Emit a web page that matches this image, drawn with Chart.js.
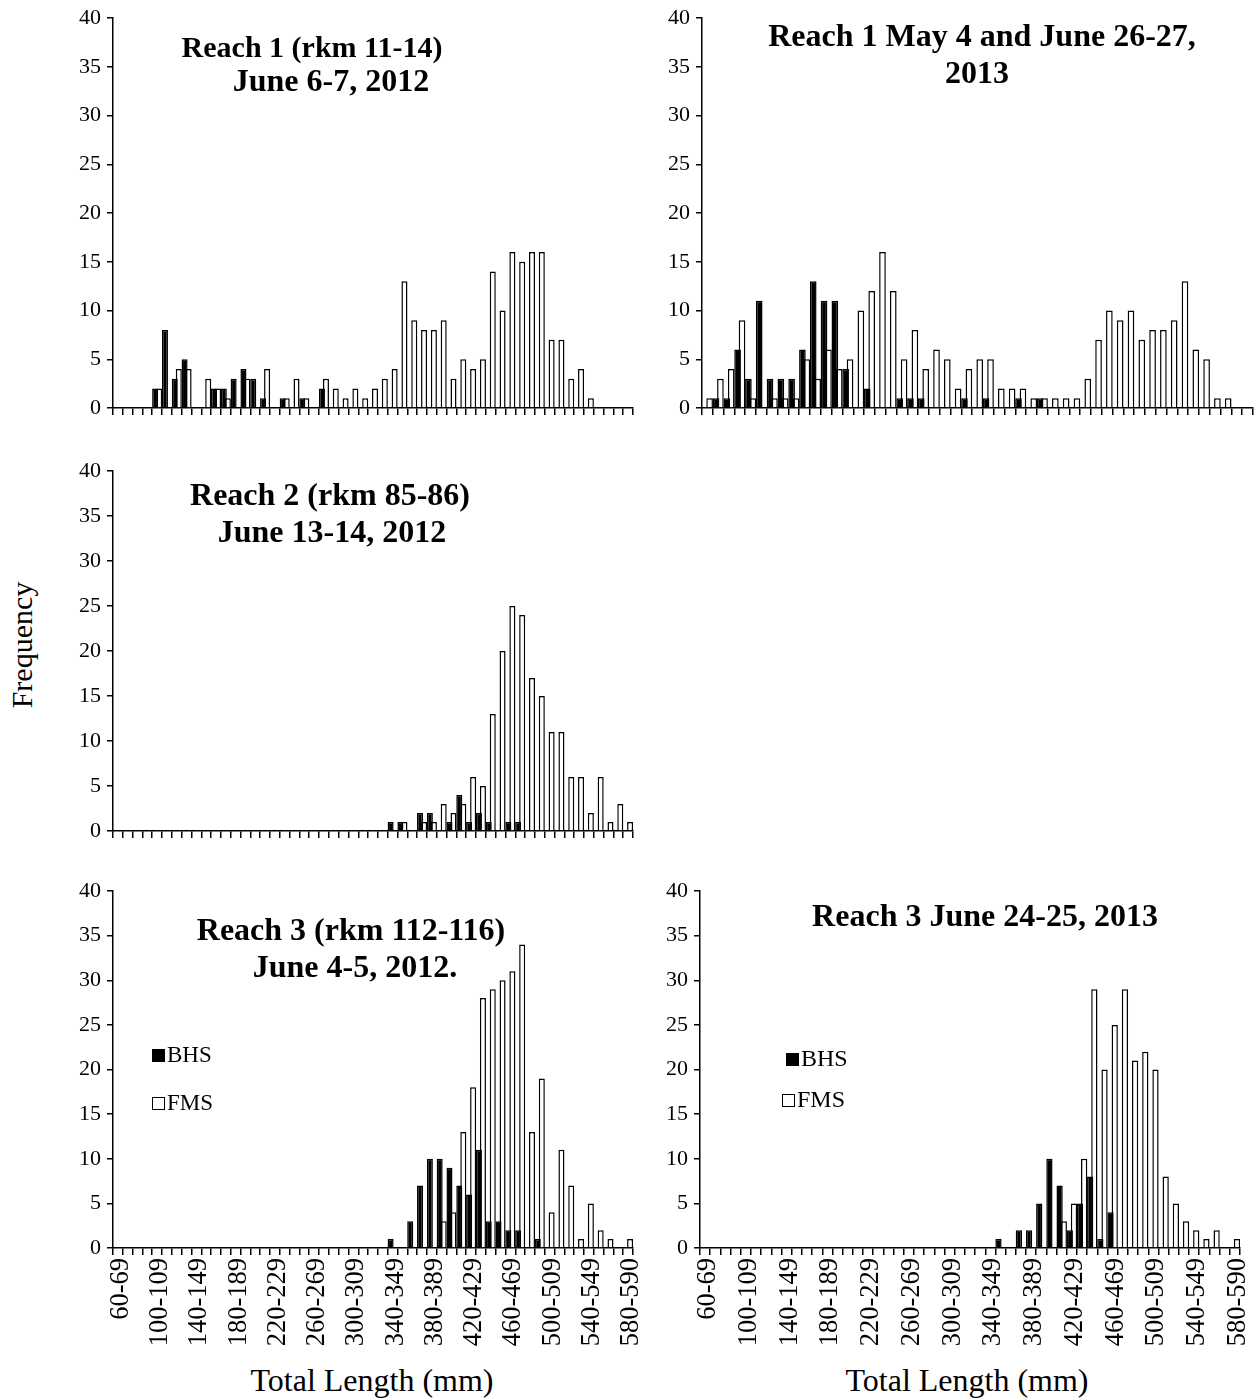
<!DOCTYPE html>
<html>
<head>
<meta charset="utf-8">
<script src="https://cdn.jsdelivr.net/npm/chart.js@4.4.1/dist/chart.umd.min.js"></script>
<style>
  html, body { margin: 0; padding: 0; background: #fff; overflow: hidden; }
  body { width: 1257px; height: 1399px; position: relative; font-family: "Liberation Serif", "Times New Roman", serif; color: #000; }
  .panel { position: absolute; }
  .txt { position: absolute; white-space: nowrap; transform: translate(-50%, -50%); }
  .title { font-weight: bold; font-size: 32px; }
  .axis { font-size: 32px; }
  .leg { position: absolute; font-size: 23px; white-space: nowrap; line-height: 1; }
  .sw { display: inline-block; width: 13px; height: 13px; border: 1.5px solid #000; box-sizing: border-box; margin-right: 2px; vertical-align: 0px; }
</style>
</head>
<body>

<div class="panel" id="p1" style="left:53px;top:4px;width:592px;height:416px"><canvas id="c1"></canvas></div>
<div class="panel" id="p2" style="left:642px;top:4px;width:615px;height:416px"><canvas id="c2"></canvas></div>
<div class="panel" id="p3" style="left:53px;top:457px;width:592px;height:386px"><canvas id="c3"></canvas></div>
<div class="panel" id="p4" style="left:53px;top:877px;width:592px;height:481px"><canvas id="c4"></canvas></div>
<div class="panel" id="p5" style="left:640px;top:877px;width:612px;height:481px"><canvas id="c5"></canvas></div>

<div class="txt title" style="left:312px;top:47px;font-size:30px">Reach 1 (rkm 11-14)</div>
<div class="txt title" style="left:331px;top:80px">June 6-7, 2012</div>
<div class="txt title" style="left:982px;top:35px">Reach 1 May 4 and June 26-27,</div>
<div class="txt title" style="left:977px;top:72px">2013</div>
<div class="txt title" style="left:330px;top:494px">Reach 2 (rkm 85-86)</div>
<div class="txt title" style="left:332px;top:531px">June 13-14, 2012</div>
<div class="txt title" style="left:351px;top:929px">Reach 3 (rkm 112-116)</div>
<div class="txt title" style="left:355px;top:966px">June 4-5, 2012.</div>
<div class="txt title" style="left:985px;top:915px">Reach 3 June 24-25, 2013</div>

<div class="txt axis" style="left:22px;top:645px;font-size:30px;transform:translate(-50%,-50%) rotate(-90deg)">Frequency</div>
<div class="txt axis" style="left:372px;top:1380px">Total Length (mm)</div>
<div class="txt axis" style="left:967px;top:1380px">Total Length (mm)</div>

<div class="leg" style="left:152px;top:1043px"><span class="sw" style="background:#000"></span>BHS</div>
<div class="leg" style="left:152px;top:1091px"><span class="sw" style="background:#fff"></span>FMS</div>
<div class="leg" style="left:786px;top:1046px;font-size:24px"><span class="sw" style="background:#000"></span>BHS</div>
<div class="leg" style="left:782px;top:1087px;font-size:24px"><span class="sw" style="background:#fff"></span>FMS</div>

<script>
// length classes (mm)
const categories = ['60-69', '70-79', '80-89', '90-99', '100-109', '110-119', '120-129', '130-139',
  '140-149', '150-159', '160-169', '170-179', '180-189', '190-199', '200-209', '210-219',
  '220-229', '230-239', '240-249', '250-259', '260-269', '270-279', '280-289', '290-299',
  '300-309', '310-319', '320-329', '330-339', '340-349', '350-359', '360-369', '370-379',
  '380-389', '390-399', '400-409', '410-419', '420-429', '430-439', '440-449', '450-459',
  '460-469', '470-479', '480-489', '490-499', '500-509', '510-519', '520-529', '530-539',
  '540-549', '550-559', '560-569', '570-579', '580-590'];
const yTicks = [0, 5, 10, 15, 20, 25, 30, 35, 40];

// Reach 1 (rkm 11-14) June 6-7, 2012
const bhsR1_2012 = [0,0,0,0,2,8,3,5,0,0,2,2,3,4,3,1,0,1,0,1,0,2,0,0,0,0,0,0,0,0,0,0,0,0,0,0,0,0,0,0,0,0,0,0,0,0,0,0,0,0,0,0,0];
const fmsR1_2012 = [0,0,0,0,2,0,4,4,0,3,2,1,0,3,0,4,0,1,3,1,0,3,2,1,2,1,2,3,4,13,9,8,8,9,3,5,4,5,14,10,16,15,16,16,7,7,3,4,1,0,0,0,0];

// Reach 1 May 4 and June 26-27, 2013 (axis stops at 560-569)
const bhsR1_2013 = [0,1,1,6,3,11,3,3,3,6,13,11,11,4,0,2,0,0,1,1,1,0,0,0,1,0,1,0,0,1,0,1,0,0,0,0,0,0,0,0,0,0,0,0,0,0,0,0,0,0,0];
const fmsR1_2013 = [1,3,4,9,1,0,1,1,1,5,3,6,4,5,10,12,16,12,5,8,4,6,5,2,4,5,5,2,2,2,1,1,1,1,1,3,7,10,9,10,7,8,8,9,13,6,5,1,1,0,0];

// Reach 2 (rkm 85-86) June 13-14, 2012
const bhsR2_2012 = [0,0,0,0,0,0,0,0,0,0,0,0,0,0,0,0,0,0,0,0,0,0,0,0,0,0,0,0,1,1,0,2,2,0,1,4,1,2,1,0,1,1,0,0,0,0,0,0,0,0,0,0,0];
const fmsR2_2012 = [0,0,0,0,0,0,0,0,0,0,0,0,0,0,0,0,0,0,0,0,0,0,0,0,0,0,0,0,0,1,0,1,1,3,2,3,6,5,13,20,25,24,17,15,11,11,6,6,2,6,1,3,1];

// Reach 3 (rkm 112-116) June 4-5, 2012
const bhsR3_2012 = [0,0,0,0,0,0,0,0,0,0,0,0,0,0,0,0,0,0,0,0,0,0,0,0,0,0,0,0,1,0,3,7,10,10,9,7,6,11,3,3,2,2,0,1,0,0,0,0,0,0,0,0,0];
const fmsR3_2012 = [0,0,0,0,0,0,0,0,0,0,0,0,0,0,0,0,0,0,0,0,0,0,0,0,0,0,0,0,0,0,0,0,0,3,4,13,18,28,29,30,31,34,13,19,4,11,7,1,5,2,1,0,1];

// Reach 3 June 24-25, 2013
const bhsR3_2013 = [0,0,0,0,0,0,0,0,0,0,0,0,0,0,0,0,0,0,0,0,0,0,0,0,0,0,0,0,0,1,0,2,2,5,10,7,2,5,8,1,4,0,0,0,0,0,0,0,0,0,0,0,0];
const fmsR3_2013 = [0,0,0,0,0,0,0,0,0,0,0,0,0,0,0,0,0,0,0,0,0,0,0,0,0,0,0,0,0,0,0,0,0,0,0,3,5,10,29,20,25,29,21,22,20,8,5,3,2,1,2,0,1];

const FONT = 'Liberation Serif';

function makePanel(id, bhs, fms, showLabels, padRight) {
  const labels = categories.slice(0, bhs.length);
  const xH = showLabels ? 110 : 12;
  return new Chart(document.getElementById(id), {
    type: 'bar',
    data: {
      labels: labels,
      datasets: [
        { label: 'BHS', data: bhs.map(v => v || null), backgroundColor: '#000', borderColor: '#000',
          borderWidth: 1.5, categoryPercentage: 0.82, barPercentage: 1.5 },
        { label: 'FMS', data: fms.map(v => v || null), backgroundColor: '#fff', borderColor: '#000',
          borderWidth: 1.5, categoryPercentage: 0.82, barPercentage: 1.5 }
      ]
    },
    options: {
      responsive: true,
      maintainAspectRatio: false,
      animation: false,
      layout: { padding: { top: 14, right: padRight, left: 0, bottom: 0 } },
      plugins: {
        legend: { display: false },
        tooltip: { enabled: false }
      },
      scales: {
        x: {
          offset: true,
          grid: { display: true, offset: true, drawOnChartArea: false, drawTicks: true,
                  tickLength: 7, color: '#000', lineWidth: 1.5 },
          border: { display: true, color: '#000', width: 1.5 },
          ticks: {
            display: showLabels,
            autoSkip: false, minRotation: 90, maxRotation: 90, padding: 3, labelOffset: 3,
            color: '#000',
            font: { family: FONT, size: 26.5 },
            callback: function(value, index) {
              return index % 4 === 0 ? labels[index] : '';
            }
          },
          afterFit: function(scale) {
            scale.height = xH;
            scale.paddingLeft = 0;
            scale.paddingRight = 0;
          }
        },
        y: {
          min: yTicks[0],
          max: yTicks[yTicks.length - 1],
          afterBuildTicks: function(scale) { scale.ticks = yTicks.map(v => ({ value: v })); },
          grid: { display: true, drawOnChartArea: false, drawTicks: true, tickLength: 6,
                  color: '#000', lineWidth: 1.5 },
          border: { display: true, color: '#000', width: 1.5 },
          ticks: { color: '#000', padding: 6, font: { family: FONT, size: 22 } },
          afterFit: function(scale) {
            scale.width = 60;
            scale.paddingTop = 0;
            scale.paddingBottom = 0;
          }
        }
      }
    }
  });
}

makePanel('c1', bhsR1_2012, fmsR1_2012, false, 12);
makePanel('c2', bhsR1_2013, fmsR1_2013, false, 4);
makePanel('c3', bhsR2_2012, fmsR2_2012, false, 12);
makePanel('c4', bhsR3_2012, fmsR3_2012, true, 12);
makePanel('c5', bhsR3_2013, fmsR3_2013, true, 12);
</script>
</body>
</html>
